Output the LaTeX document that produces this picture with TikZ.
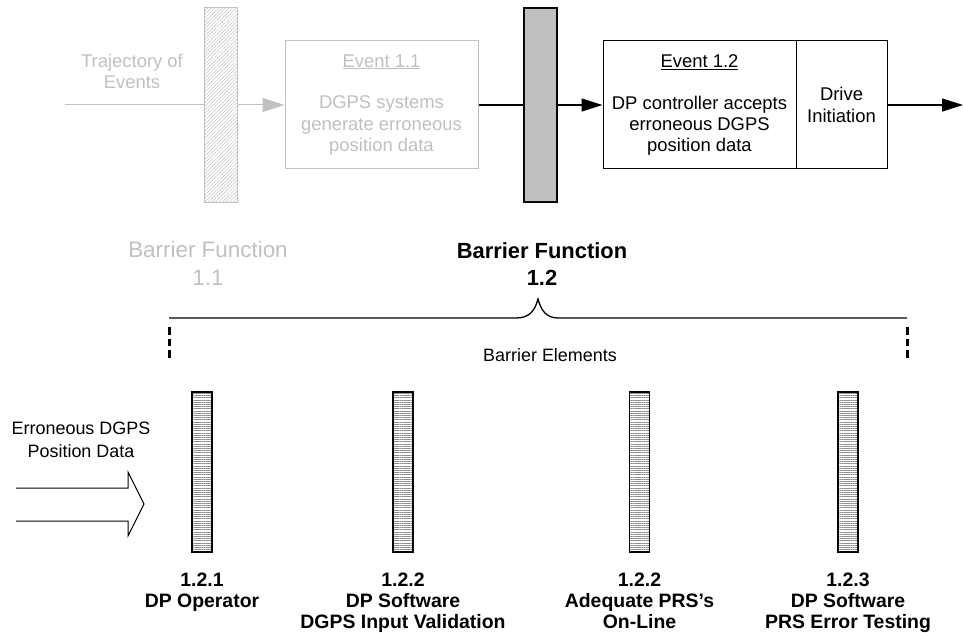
\documentclass[tikz,border=0pt]{standalone}
\usepackage{fontspec}
\setmainfont{Liberation Sans}
\usetikzlibrary{arrows.meta,patterns.meta}
\definecolor{fadegrey}{HTML}{C0C0C0}

\begin{document}
\begin{tikzpicture}
    [
        x=1bp, y=-1bp,
        eventbox/.style={rectangle, draw, inner sep=0, minimum width=193bp, minimum height=128bp,
            align=center, font=\fontsize{18.5}{21.5}\selectfont},
        drivebox/.style={eventbox, minimum width=91bp},
        barrier/.style={rectangle, inner sep=0, minimum width=33bp, minimum height=194bp},
        element/.style={rectangle, draw, line width=1.2bp, inner sep=0, minimum width=20bp, minimum height=160bp,
            pattern={Lines[angle=0,distance=2.2bp,line width=0.4bp]}, pattern color=black!45},
        elemlabel/.style={anchor=north, inner sep=0, align=center, font=\fontsize{19.5}{21}\selectfont\bfseries},
        note/.style={align=center, inner sep=0, font=\fontsize{18}{23}\selectfont},
        faded/.style={text=fadegrey, draw=fadegrey},
        fadeline/.style={draw=fadegrey, line width=1bp},
        fadetip/.style={-{Triangle[length=22bp,width=14bp]}},
        flow/.style={line width=1.3bp},
        flowtip/.style={-{Triangle[length=21bp,width=13bp]}},
        endmark/.style={line width=3bp, dash pattern=on 7.5bp off 4bp},
    ]
    \useasboundingbox (0,0) rectangle (963,633);

    % trajectory of events
    \coordinate (trajstart) at (65,105);
    \coordinate (trajend) at (963,105);
    \node (traj) at (132,71) [note, text=fadegrey, font=\fontsize{18.5}{21}\selectfont] {Trajectory of\\Events};

    \node (b11) at (220.5,105) [barrier, draw=fadegrey, line width=1bp,
        pattern={Lines[angle=45,distance=2.5bp,line width=0.5bp]}, pattern color=fadegrey] {};
    \node (e11) at (381.5,105) [eventbox, faded, line width=1bp]
        {\underline{Event 1.1}\\[20.5bp]DGPS systems\\generate erroneous\\position data};
    \node (b12) at (540.5,105) [barrier, draw, line width=1.6bp, fill=black!22,
        postaction={pattern={Dots[distance=2bp,radius=0.45bp]}, pattern color=black!55}] {};
    \node (e12) at (699.5,105) [eventbox, line width=1bp]
        {\underline{Event 1.2}\\[20.5bp]DP controller accepts\\erroneous DGPS\\position data};
    \node (drive) at (841.5,105) [drivebox, line width=1bp] {Drive\\Initiation};

    \draw [fadeline] (trajstart) -- (b11);
    \draw [fadeline, fadetip] (b11) -- (e11);
    \draw [flow] (e11) -- (b12);
    \draw [flow, flowtip] (b12) -- (e12);
    \draw [flow, flowtip] (drive) -- (trajend);

    % barrier functions
    \node (bf11) at (208,263.5) [align=center, text=fadegrey, font=\fontsize{22.5}{28}\selectfont] {Barrier Function\\1.1};
    \node (bf12) at (542,264.5) [align=center, font=\fontsize{22}{27}\selectfont\bfseries] {Barrier Function\\1.2};

    % brace over the barrier elements
    \draw [line width=1.3bp] (169,318) -- (516,318)
        .. controls (530,318) and (535,310) .. (538,299)
        .. controls (541,310) and (546,318) .. (558,318) -- (907,318);
    \draw [endmark] (169,327) -- (169,359);
    \draw [endmark] (907,327) -- (907,359);
    \node (belem) at (550,355) [note] {Barrier Elements};

    % incoming data
    \node (dgps) at (81,439.5) [note] {Erroneous DGPS\\Position Data};
    \draw [line width=1bp] (16,488) -- (128,488) -- (128,472) -- (144,504)
        -- (128,536) -- (128,521) -- (16,521);

    % barrier elements
    \node (el1) at (202,472) [element] {};
    \node (el2) at (403,472) [element] {};
    \node (el3) at (639.5,472) [element] {};
    \node (el4) at (848,472) [element] {};

    \node (lab1) at (202,573) [elemlabel] {1.2.1\\DP Operator};
    \node (lab2) at (403,573) [elemlabel] {1.2.2\\DP Software\\DGPS Input Validation};
    \node (lab3) at (639.5,573) [elemlabel] {1.2.2\\Adequate PRS’s\\On-Line};
    \node (lab4) at (848,573) [elemlabel] {1.2.3\\DP Software\\PRS Error Testing};

\end{tikzpicture}
\end{document}
